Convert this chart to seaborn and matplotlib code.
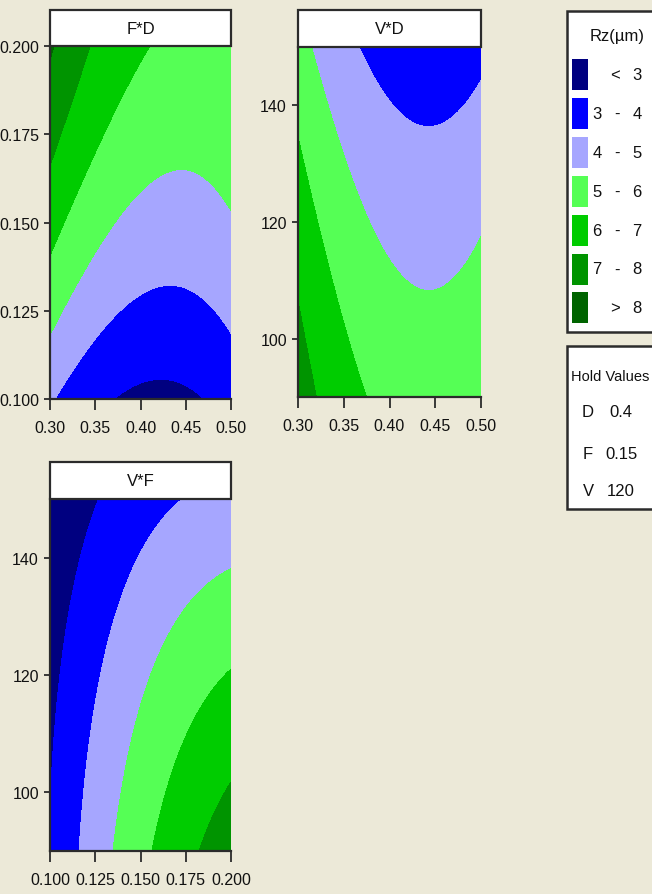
import numpy as np
import matplotlib
matplotlib.use("Agg")
import matplotlib.pyplot as plt
from matplotlib.patches import Rectangle
import seaborn as sns

# ---- Rz bands -------------------------------------------------------------
rz_levels = [3, 4, 5, 6, 7, 8]
band_colors = ["#000080", "#0000FF", "#A6A6FF", "#55FF55", "#00CC00", "#009400", "#006400"]
band_left = ["", "3", "4", "5", "6", "7", ""]
band_mid = ["<", "-", "-", "-", "-", "-", ">"]
band_right = ["3", "4", "5", "6", "7", "8", "8"]

# ---- hold values ------------------------------------------------------------
hold_names = ["D", "F", "V"]
hold_values = ["0.4", "0.15", "120"]

# ---- contour readings: F*D panel (x = D, y = F) -----------------------------
fd_d = [0.377, 0.4234, 0.4724,
        0.309, 0.337, 0.3737, 0.4326, 0.473, 0.500,
        0.300, 0.318, 0.3405, 0.366, 0.4436, 0.500,
        0.300, 0.366, 0.405,
        0.300, 0.344]
fd_f = [0.100, 0.1066, 0.100,
        0.100, 0.1142, 0.1255, 0.1319, 0.1265, 0.1184,
        0.1176, 0.1283, 0.1378, 0.1453, 0.1644, 0.1538,
        0.143, 0.1765, 0.200,
        0.1642, 0.200]
fd_rz = [3, 3, 3,
         4, 4, 4, 4, 4, 4,
         5, 5, 5, 5, 5, 5,
         6, 6, 6,
         7, 7]

# ---- contour readings: V*D panel (x = D, y = V) -----------------------------
vd_d = [0.364, 0.3933, 0.4406, 0.4807, 0.500,
        0.316, 0.3495, 0.397, 0.4425, 0.4734, 0.500,
        0.300, 0.3368, 0.3732,
        0.300, 0.320]
vd_v = [150.0, 144.4, 136.1, 139.3, 144.1,
        150.0, 130.2, 113.1, 107.7, 112.0, 117.7,
        133.6, 113.1, 90.2,
        106.6, 90.0]
vd_rz = [4, 4, 4, 4, 4,
         5, 5, 5, 5, 5, 5,
         6, 6, 6,
         7, 7]

# ---- contour readings: V*F panel (x = F, y = V) -----------------------------
vf_f = [0.1258, 0.1175, 0.1055, 0.1025, 0.100,
        0.1733, 0.1497, 0.1276, 0.1184, 0.1151,
        0.200, 0.1681, 0.1561, 0.1414, 0.135,
        0.200, 0.1755, 0.1624, 0.1567,
        0.200, 0.183]
vf_v = [150.0, 140.0, 120.0, 110.0, 97.0,
        150.0, 140.0, 120.0, 100.0, 90.0,
        137.7, 130.1, 120.0, 100.0, 90.0,
        120.6, 110.1, 100.0, 90.0,
        102.4, 90.0]
vf_rz = [3, 3, 3, 3, 3,
         4, 4, 4, 4, 4,
         5, 5, 5, 5, 5,
         6, 6, 6, 6,
         7, 7]

# ---- axis ticks -------------------------------------------------------------
d_ticks = [0.30, 0.35, 0.40, 0.45, 0.50]
f_ticks = [0.100, 0.125, 0.150, 0.175, 0.200]
v_ticks = [100, 120, 140]
d_labels = ["0.30", "0.35", "0.40", "0.45", "0.50"]
f_labels = ["0.100", "0.125", "0.150", "0.175", "0.200"]
v_labels = ["100", "120", "140"]

BG = "#ECE9D8"
EDGE = "#2B2B2B"
INK = "#111111"
W, H = 652, 895
FS = 12
TICK_FS = 11.5

sns.set_theme(style="ticks", rc={"axes.facecolor": "white", "figure.facecolor": BG})
plt.rcParams["font.family"] = ["Liberation Sans", "DejaVu Sans"]


def quad_surface(x, y, z, xr, yr, n=320):
    """Least-squares second-order response surface evaluated on a grid."""
    x = np.asarray(x, float)
    y = np.asarray(y, float)
    z = np.asarray(z, float)
    cx, sx = (xr[0] + xr[1]) / 2, (xr[1] - xr[0]) / 2
    cy, sy = (yr[0] + yr[1]) / 2, (yr[1] - yr[0]) / 2

    def design(a, b):
        u = (a - cx) / sx
        v = (b - cy) / sy
        return np.stack([np.ones_like(u), u, v, u * u, v * v, u * v], axis=-1)

    coef, *_ = np.linalg.lstsq(design(x, y), z, rcond=None)
    gx = np.linspace(xr[0], xr[1], n)
    gy = np.linspace(yr[0], yr[1], n)
    GX, GY = np.meshgrid(gx, gy)
    return GX, GY, design(GX, GY) @ coef


def px_rect(x0, y0, x1, y1):
    return [x0 / W, 1 - y1 / H, (x1 - x0) / W, (y1 - y0) / H]


def box(x0, y0, x1, y1, lw=1.6, face="white"):
    fig.add_artist(Rectangle((x0 / W, 1 - y1 / H), (x1 - x0) / W, (y1 - y0) / H,
                             transform=fig.transFigure, facecolor=face, edgecolor=EDGE,
                             linewidth=lw, zorder=5))


def label(xp, yp, s, ha="center", size=FS):
    fig.text(xp / W, 1 - yp / H, s, ha=ha, va="center", fontsize=size, color=INK, zorder=7)


fig = plt.figure(figsize=(W / 100, H / 100), dpi=100, facecolor=BG)

panels = [
    dict(title="F*D", box=(50, 47, 231, 400), head=11, x=fd_d, y=fd_f, z=fd_rz,
         xr=(0.30, 0.50), yr=(0.100, 0.200), xt=d_ticks, xl=d_labels, yt=f_ticks, yl=f_labels),
    dict(title="V*D", box=(298, 48, 481, 398), head=11, x=vd_d, y=vd_v, z=vd_rz,
         xr=(0.30, 0.50), yr=(90, 150), xt=d_ticks, xl=d_labels, yt=v_ticks, yl=v_labels),
    dict(title="V*F", box=(50, 500, 231, 852), head=463, x=vf_f, y=vf_v, z=vf_rz,
         xr=(0.100, 0.200), yr=(90, 150), xt=f_ticks, xl=f_labels, yt=v_ticks, yl=v_labels),
]

bounds = [-1e3] + rz_levels + [1e3]

for p in panels:
    x0, y0, x1, y1 = p["box"]
    ax = fig.add_axes(px_rect(x0, y0, x1, y1))
    GX, GY, Z = quad_surface(p["x"], p["y"], p["z"], p["xr"], p["yr"])
    ax.contourf(GX, GY, Z, levels=bounds, colors=band_colors, antialiased=False)
    ax.set_xlim(*p["xr"])
    ax.set_ylim(*p["yr"])
    ax.set_xticks(p["xt"])
    ax.set_xticklabels(p["xl"])
    ax.set_yticks(p["yt"])
    ax.set_yticklabels(p["yl"])
    ax.tick_params(axis="x", direction="out", length=8, width=1.3, color=EDGE, pad=7,
                   labelsize=TICK_FS, labelcolor=INK)
    ax.tick_params(axis="y", direction="out", length=4, width=1.3, color=EDGE, pad=4,
                   labelsize=TICK_FS, labelcolor=INK)
    for side in ("top", "right"):
        ax.spines[side].set_visible(False)
    for side in ("left", "bottom"):
        ax.spines[side].set_color(EDGE)
        ax.spines[side].set_linewidth(1.6)

    # header strip with the interaction name
    hy0 = p["head"]
    box(x0, hy0, x1, y0)
    label((x0 + x1) / 2, (hy0 + y0) / 2, p["title"])

# ---- Rz legend box ------------------------------------------------------------
lx0, lx1 = 567, 662
box(lx0, 12, lx1, 333, lw=1.8)
label(617, 37, "Rz(µm)")
for i, col in enumerate(band_colors):
    top = 60 + i * 38.9
    fig.add_artist(Rectangle((572 / W, 1 - (top + 31) / H), 16 / W, 31 / H,
                             transform=fig.transFigure, facecolor=col, edgecolor="none",
                             zorder=6))
    yc = top + 15.5
    if band_left[i]:
        label(597, yc, band_left[i])
        label(617, yc, band_mid[i])
    else:
        label(615, yc, band_mid[i])
    label(637, yc, band_right[i])

# ---- hold values box -----------------------------------------------------------
box(lx0, 347, lx1, 510, lw=1.8)
label(610, 377, "Hold Values", size=10.5)
for name, val, yy in zip(hold_names, hold_values, [413, 455, 492]):
    label(588, yy, name)
    label(621, yy, val)

fig.savefig("out.png", dpi=100, facecolor=BG)
